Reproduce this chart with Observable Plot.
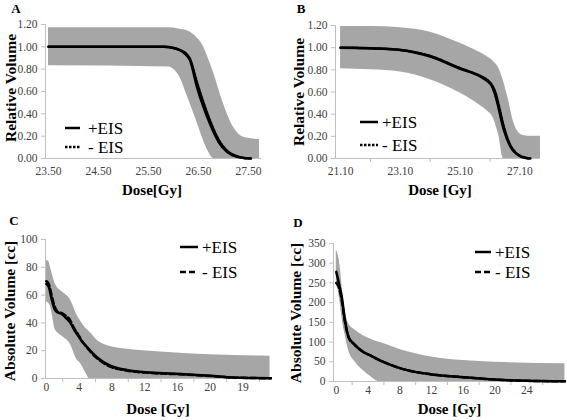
<!DOCTYPE html>
<html><head><meta charset="utf-8">
<script src="https://cdn.jsdelivr.net/npm/d3@7"></script>
<script src="https://cdn.jsdelivr.net/npm/@observablehq/plot@0.6"></script>
<style>
body{margin:0;background:#fff;}
#wrap{position:relative;width:567px;height:420px;background:#fff;}
.panel{position:absolute;}
</style></head><body><div id="wrap"></div>
<script>
// ---------- Panel A (relative volume) ----------
const aDose  = [23.5, 25.5, 25.8, 26.0, 26.13, 26.25, 26.33, 26.47, 26.6, 26.73, 26.9, 27.07, 27.27, 27.4, 27.55];
const aPlus  = [1.0, 1.0, 1.0, 0.99, 0.97, 0.93, 0.88, 0.64, 0.46, 0.31, 0.15, 0.06, 0.015, 0.005, 0.0];
const aMinus = [1.0, 1.0, 1.0, 0.99, 0.97, 0.94, 0.89, 0.68, 0.50, 0.34, 0.17, 0.07, 0.02, 0.006, 0.0];
const aBandDose  = [23.5, 25.9, 26.1, 26.3, 26.45, 26.6, 26.7, 26.8, 27.0, 27.2, 27.4, 27.72];
const aBandUpper = [1.17, 1.17, 1.16, 1.14, 1.09, 1.0, 0.89, 0.77, 0.49, 0.28, 0.19, 0.17];
const aBandLower = [0.83, 0.82, 0.75, 0.53, 0.35, 0.16, 0.06, 0.0, 0.0, 0.0, 0.0, 0.0];
const aXTicks = [23.5, 24.5, 25.5, 26.5, 27.5];
const aYTicks = [0, 0.2, 0.4, 0.6, 0.8, 1.0, 1.2];

// ---------- Panel B (relative volume) ----------
const bDose  = [21.1, 22.1, 23.1, 24.1, 25.1, 25.77, 26.0, 26.17, 26.3, 26.4, 26.56, 26.78, 26.95, 27.12, 27.3, 27.45];
const bPlus  = [1.0, 0.995, 0.98, 0.92, 0.81, 0.74, 0.70, 0.65, 0.55, 0.44, 0.26, 0.11, 0.05, 0.02, 0.005, 0.0];
const bMinus = [1.0, 0.995, 0.98, 0.925, 0.815, 0.745, 0.71, 0.66, 0.58, 0.47, 0.29, 0.12, 0.055, 0.022, 0.006, 0.0];
const bBandDose  = [21.1, 22.1, 23.1, 24.1, 25.1, 25.6, 26.0, 26.2, 26.4, 26.55, 26.7, 26.9, 27.18, 27.4, 27.79];
const bBandUpper = [1.19, 1.19, 1.18, 1.14, 1.04, 0.98, 0.92, 0.88, 0.81, 0.70, 0.55, 0.32, 0.21, 0.20, 0.20];
const bBandLower = [0.81, 0.80, 0.78, 0.71, 0.59, 0.51, 0.43, 0.37, 0.20, 0.0, 0.0, 0.0, 0.0, 0.0, 0.0];
const bXTicks = [21.1, 23.1, 25.1, 27.1];
const bMinorTicks = [22.1, 24.1, 26.1];
const bYTicks = [0, 0.2, 0.4, 0.6, 0.8, 1.0, 1.2];

// ---------- Panel C (absolute volume, cc) ----------
const cDose  = [0, 0.3, 0.6, 1.0, 1.4, 1.9, 2.4, 2.9, 3.4, 3.75, 4.3, 5.0, 6.2, 7.8, 9.9, 12.7, 16.8, 20, 22.9, 27.4];
const cPlus  = [68, 66, 58.5, 50, 47.5, 46.5, 43.5, 40.5, 35, 32, 27, 22.4, 15.2, 9.2, 6, 4.3, 3.1, 1.9, 0.7, 0.2];
const cMinus = [70, 68, 61, 52, 48, 47, 45, 42, 36, 33, 27.5, 22, 14.5, 8.5, 5.6, 4, 2.9, 1.8, 0.6, 0.2];
const cBandDose  = [0, 0.3, 0.5, 1.1, 2.0, 2.9, 3.8, 4.0, 5.0, 5.2, 6.3, 7.8, 9.9, 13, 16.8, 20, 27.3];
const cBandUpper = [85, 84, 80, 68, 62, 57, 45, 43, 35, 34, 27, 23, 21, 19.5, 18, 17, 16];
const cBandLower = [55, 54, 52, 35, 30, 25, 13, 12, 2, 0, 0, 0, 0, 0, 0, 0, 0];
const cXTicks = [0, 4, 8, 12, 16, 20, 24];
const cXLabels = ["0", "4", "8", "12", "16", "20", "19"];
const cMinorTicks = [2, 6, 10, 14, 18, 22, 26];
const cYTicks = [0, 20, 40, 60, 80, 100];

// ---------- Panel D (absolute volume, cc) ----------
const dDose  = [0, 0.3, 0.7, 1.1, 1.55, 2.2, 3.4, 4.3, 6, 8.3, 12, 16, 20, 24, 28.8];
const dPlus  = [278, 252, 214, 155, 113, 96, 75, 66, 49, 32, 18, 11, 5, 1.7, 0.5];
const dMinus = [250, 240, 205, 150, 112, 95, 75, 66, 49, 32, 18, 11, 5, 1.7, 0.5];
const dBandDose  = [0, 0.3, 0.5, 0.7, 0.9, 1.1, 1.55, 2.4, 3.4, 4.3, 5.3, 6, 8.3, 12, 16, 20, 28.8];
const dBandUpper = [333, 316, 290, 248, 205, 180, 147, 130, 116, 108, 100, 96, 79, 62, 53, 49, 45];
const dBandLower = [248, 225, 197, 165, 138, 120, 79, 49, 28, 13, 0, 0, 0, 0, 0, 0, 0];
const dXTicks = [0, 4, 8, 12, 16, 20, 24];
const dMinorTicks = [2, 6, 10, 14, 18, 22, 26];
const dYTicks = [0, 50, 100, 150, 200, 250, 300, 350];

const seriesNames = ["+EIS", "- EIS"];

const FONT = "'Liberation Serif', 'Times New Roman', serif";
const BAND = "#a6a6a6";
const AXIS = "#bfbfbf";
const TICKTXT = "#404040";

const pts = (xs, ys) => xs.map((x, i) => ({x, y: ys[i]}));
const bandPts = (xs, lo, hi) => xs.map((x, i) => ({x, lo: lo[i], hi: hi[i]}));

function legendMark(cfg) {
  return (index, scales, values, dims) => {
    const g = d3.create("svg:g");
    seriesNames.forEach((name, i) => {
      const y = dims.marginTop + cfg.top + i * cfg.gap;
      const x = dims.marginLeft + cfg.left;
      g.append("line").attr("x1", x).attr("x2", x + cfg.len).attr("y1", y).attr("y2", y)
        .attr("stroke", "black").attr("stroke-width", 2.5)
        .attr("stroke-dasharray", i === 0 ? null : cfg.dash);
      g.append("text").attr("x", x + cfg.len + cfg.textGap).attr("y", y).attr("dy", "0.35em")
        .attr("text-anchor", "start")
        .attr("font-size", 17).attr("fill", "black").attr("font-family", FONT).text(name);
    });
    return g.node();
  };
}

function annotations(p) {
  return () => {
    const g = d3.create("svg:g").attr("font-family", FONT).attr("fill", "black").attr("font-weight", "bold");
    g.append("text").attr("x", p.letterAt[0]).attr("y", p.letterAt[1]).attr("dy", "0.35em")
      .attr("text-anchor", "middle").attr("font-size", 13).text(p.letter);
    g.append("text").attr("transform", `translate(${p.ylabAt[0]},${p.ylabAt[1]}) rotate(-90)`).attr("dy", "0.35em")
      .attr("text-anchor", "middle").attr("font-size", 15.5).text(p.ylabel);
    g.append("text").attr("x", p.xlabAt[0]).attr("y", p.xlabAt[1]).attr("dy", "0.35em")
      .attr("text-anchor", "middle").attr("font-size", 15).text(p.xlabel);
    return g.node();
  };
}

function panel(p) {
  const marks = [
    Plot.areaY(bandPts(p.bandX, p.bandLo, p.bandHi), {x: "x", y1: "lo", y2: "hi", fill: BAND, curve: "monotone-x"}),
    Plot.ruleX([p.xDomain[0]], {stroke: AXIS, strokeWidth: 1}),
    Plot.ruleY([p.yDomain[0]], {stroke: AXIS, strokeWidth: 1}),
    Plot.axisY({ticks: p.yTicks, tickSize: 4, tickFormat: () => "", stroke: AXIS, label: null}),
    Plot.axisY({ticks: p.yTicks, tickSize: 0, tickPadding: 8, tickFormat: p.yFormat, fill: TICKTXT, fontSize: 11.5, label: null}),
    Plot.axisX({ticks: p.xTicks, tickSize: 0, tickPadding: p.xPad, tickFormat: p.xFormat, fill: TICKTXT, fontSize: 11.5, label: null}),
  ];
  if (p.minor) marks.push(Plot.axisX({ticks: p.minor, tickSize: 4, tickFormat: () => "", stroke: AXIS, label: null}));
  marks.push(
    Plot.line(pts(p.x, p.plus), {x: "x", y: "y", stroke: "black", strokeWidth: 2.5, curve: "monotone-x"}),
    Plot.line(pts(p.x, p.minus), {x: "x", y: "y", stroke: "black", strokeWidth: 2.5, strokeDasharray: p.dash, curve: "monotone-x"}),
    annotations(p),
    legendMark(p.legend)
  );
  const svg = Plot.plot({
    width: p.width, height: p.height,
    marginLeft: p.m[0], marginRight: p.m[1], marginTop: p.m[2], marginBottom: p.m[3],
    style: {fontFamily: FONT, background: "white", overflow: "visible"},
    x: {domain: p.xDomain},
    y: {domain: p.yDomain},
    marks
  });
  const div = document.createElement("div");
  div.className = "panel";
  div.style.left = p.pos[0] + "px";
  div.style.top = p.pos[1] + "px";
  div.appendChild(svg);
  document.getElementById("wrap").appendChild(div);
}

const f2 = d3.format(".2f");

panel({
  pos: [0, 0], width: 283, height: 210, m: [45, 22, 24, 52],
  xDomain: [23.44, 27.76], yDomain: [0, 1.2],
  xTicks: aXTicks, xFormat: f2, xPad: 8, yTicks: aYTicks, yFormat: f2,
  x: aDose, plus: aPlus, minus: aMinus, dash: "2.5,1.5",
  bandX: aBandDose, bandLo: aBandLower, bandHi: aBandUpper,
  letter: "A", letterAt: [16, 8],
  ylabel: "Relative Volume", ylabAt: [11, 88],
  xlabel: "Dose[Gy]", xlabAt: [152, 190],
  legend: {left: 20, top: 104, gap: 19, len: 15, textGap: 8, dash: "2.5,1.5"}
});

panel({
  pos: [283, 0], width: 284, height: 210, m: [52, 27, 25, 52],
  xDomain: [20.93, 27.79], yDomain: [0, 1.2],
  xTicks: bXTicks, xFormat: f2, xPad: 8, minor: bMinorTicks, yTicks: bYTicks, yFormat: f2,
  x: bDose, plus: bPlus, minus: bMinus, dash: "2.5,1.5",
  bandX: bBandDose, bandLo: bBandLower, bandHi: bBandUpper,
  letter: "B", letterAt: [18, 8],
  ylabel: "Relative Volume", ylabAt: [16, 92],
  xlabel: "Dose [Gy]", xlabAt: [157, 190],
  legend: {left: 25, top: 97, gap: 23, len: 18, textGap: 4, dash: "2.5,1.5"}
});

panel({
  pos: [0, 210], width: 283, height: 210, m: [45, 11, 29, 42],
  xDomain: [-0.1, 27.6], yDomain: [0, 100],
  xTicks: cXTicks, xFormat: (d) => cXLabels[cXTicks.indexOf(d)], xPad: 4, minor: cMinorTicks,
  yTicks: cYTicks, yFormat: d3.format("d"),
  x: cDose, plus: cPlus, minus: cMinus, dash: "6,3",
  bandX: cBandDose, bandLo: cBandLower, bandHi: cBandUpper,
  letter: "C", letterAt: [14, 10],
  ylabel: "Absolute Volume [cc]", ylabAt: [10, 101],
  xlabel: "Dose [Gy]", xlabAt: [158, 199],
  legend: {left: 135, top: 8, gap: 25, len: 18, textGap: 4, dash: "6,3"}
});

panel({
  pos: [283, 210], width: 284, height: 210, m: [50, 1, 33, 39],
  xDomain: [-0.35, 29], yDomain: [0, 350],
  xTicks: dXTicks, xFormat: d3.format("d"), xPad: 4, minor: dMinorTicks,
  yTicks: dYTicks, yFormat: d3.format("d"),
  x: dDose, plus: dPlus, minus: dMinus, dash: "6,3",
  bandX: dBandDose, bandLo: dBandLower, bandHi: dBandUpper,
  letter: "D", letterAt: [15, 12],
  ylabel: "Absolute Volume [cc]", ylabAt: [13, 103],
  xlabel: "Dose [Gy]", xlabAt: [166.5, 199],
  legend: {left: 142, top: 9, gap: 20, len: 16, textGap: 4, dash: "6,3"}
});
</script>
</body></html>
